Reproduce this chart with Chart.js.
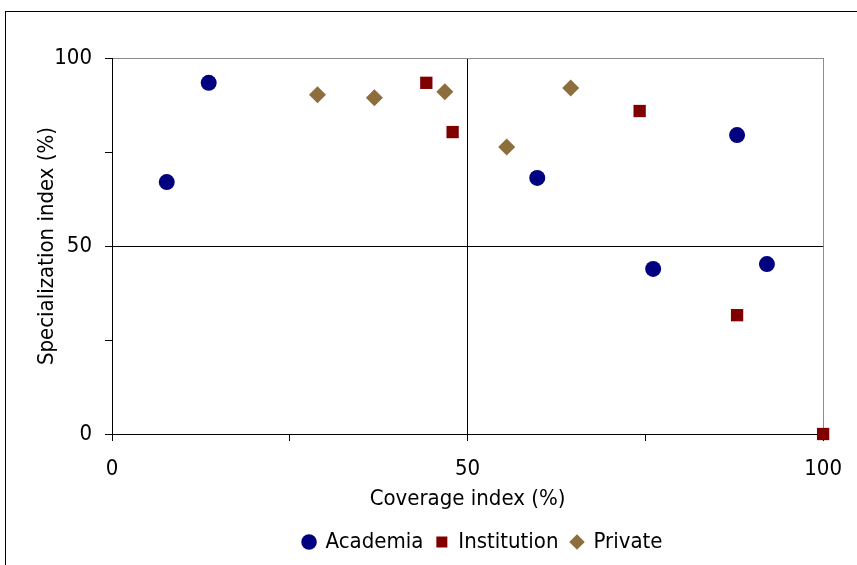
<!DOCTYPE html>
<html>
<head>
<meta charset="utf-8">
<script src="https://cdn.jsdelivr.net/npm/chart.js@4.4.1/dist/chart.umd.min.js"></script>
<style>
  html, body { margin: 0; padding: 0; background: #fff; }
  #frame { position: absolute; left: 5px; top: 11px; width: 870px; height: 580px; border: 1px solid #000; }
  #myChart { position: absolute; left: 0; top: 0; }
</style>
</head>
<body>
<div id="frame"></div>
<canvas id="myChart" width="857" height="565"></canvas>
<script>
// values (x = coverage %, y = specialization %)
const academiaX = [7.7, 13.6, 59.8, 76.1, 87.9, 92.1];
const academiaY = [67.0, 93.4, 68.1, 43.9, 79.5, 45.2];

const institutionX = [44.2, 47.9, 74.2, 87.9, 100];
const institutionY = [93.4, 80.3, 85.9, 31.6, 0];

const privateX = [28.9, 36.9, 46.8, 55.5, 64.5];
const privateY = [90.2, 89.4, 91.0, 76.3, 92.0];

const seriesNames = ['Academia', 'Institution', 'Private'];
const tickLabels = [0, 50, 100];

const FONT = "'DejaVu Sans Condensed', 'Liberation Sans', sans-serif";

// pair up x and y lists
const toPoints = (xs, ys) => xs.map((x, i) => ({ x: x, y: ys[i] }));

// black cross at 50, grey frame at 100, nothing else
const gridColor = (ctx) => {
    if (ctx.tick && ctx.tick.value === 50) return '#000';
    if (ctx.tick && ctx.tick.value === 100) return '#8c8c8c';
    return 'rgba(0,0,0,0)';
};

// legend sits a bit right of / below where chart.js centres it
const legendShift = {
    id: 'legendShift',
    afterLayout(chart) {
        const lg = chart.legend;
        lg.left += 52;
        lg.right += 52;
        lg.top += 6;
        lg.bottom += 6;
    },
};

const data = {
    datasets: [
        {
            label: seriesNames[0],
            data: toPoints(academiaX, academiaY),
            pointStyle: 'circle',
            pointRadius: 8,
            backgroundColor: '#000080',
            borderColor: '#000080',
            borderWidth: 0,
        },
        {
            label: seriesNames[1],
            data: toPoints(institutionX, institutionY),
            pointStyle: 'rect',
            pointRadius: 8.7,
            backgroundColor: '#800000',
            borderColor: '#800000',
            borderWidth: 0,
        },
        {
            label: seriesNames[2],
            data: toPoints(privateX, privateY),
            pointStyle: 'rectRot',
            pointRadius: 8.5,
            backgroundColor: '#8d6e3c',
            borderColor: '#8d6e3c',
            borderWidth: 0,
        },
    ],
};

const config = {
    type: 'scatter',
    data: data,
    options: {
        responsive: false,
        animation: false,
        devicePixelRatio: 1,
        clip: false,
        layout: {
            padding: { left: 34, top: 58, right: 29, bottom: 8 },
        },
        plugins: {
            tooltip: { enabled: false },
            legend: {
                position: 'bottom',
                labels: {
                    usePointStyle: true,
                    boxWidth: 11,
                    boxHeight: 11,
                    padding: 13,
                    color: '#000',
                    font: { family: FONT, size: 22 },
                },
            },
        },
        scales: {
            x: {
                type: 'linear',
                min: 0,
                max: 100,
                afterFit: (scale) => { scale.height = 78; },
                ticks: {
                    stepSize: 25,
                    padding: 15,
                    maxRotation: 0,
                    color: '#000',
                    font: { family: FONT, size: 22 },
                    callback: (value) => tickLabels.includes(value) ? value : '',
                },
                grid: { color: gridColor, tickColor: '#000', tickLength: 7 },
                border: { display: true, color: '#000', width: 1 },
                title: {
                    display: true,
                    text: 'Coverage index (%)',
                    color: '#000',
                    padding: 0,
                    font: { family: FONT, size: 22 },
                },
            },
            y: {
                type: 'linear',
                min: 0,
                max: 100,
                afterFit: (scale) => { scale.width = 78; },
                ticks: {
                    stepSize: 25,
                    padding: 13,
                    color: '#000',
                    font: { family: FONT, size: 22 },
                    callback: (value) => tickLabels.includes(value) ? value : '',
                },
                grid: { color: gridColor, tickColor: '#000', tickLength: 7 },
                border: { display: true, color: '#000', width: 1 },
                title: {
                    display: true,
                    text: 'Specialization index (%)',
                    color: '#000',
                    padding: 0,
                    font: { family: FONT, size: 22 },
                },
            },
        },
    },
    plugins: [legendShift],
};

new Chart(document.getElementById('myChart'), config);
</script>
</body>
</html>
